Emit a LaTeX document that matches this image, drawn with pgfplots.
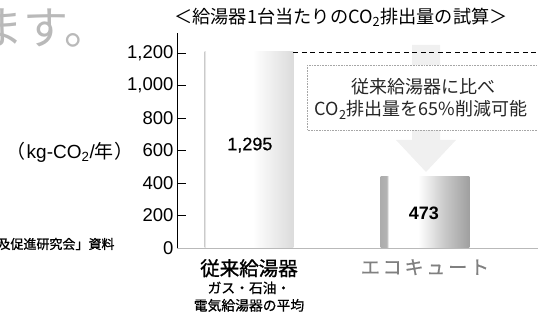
\documentclass[border=0pt]{standalone}
\usepackage{pgfplots}
\pgfplotsset{compat=1.18}
\usepackage{fontspec}
\setmainfont{Liberation Sans}
\newfontfamily\jp{Noto Sans CJK JP}
\pgfdeclarehorizontalshading{barA}{100bp}{color(0bp)=(gray!30); color(25bp)=(gray!30); color(25.8bp)=(white); color(52bp)=(white); color(75bp)=(gray!28); color(100bp)=(gray!28)}
\pgfdeclarehorizontalshading{barB}{100bp}{color(0bp)=(gray!65); color(25bp)=(gray!65); color(28.5bp)=(gray!60); color(29.5bp)=(white); color(46bp)=(white); color(62bp)=(gray!45); color(75bp)=(gray!75); color(100bp)=(gray!75)}
\begin{document}
\begin{tikzpicture}
% faint downward arrow
\fill[gray!12] (412pt,270pt) -- (440pt,270pt) -- (440pt,175pt) -- (456pt,175pt) -- (426pt,143pt) -- (396pt,175pt) -- (412pt,175pt) -- cycle;
% bars
\begin{axis}[at={(177pt,67pt)}, anchor=south west, scale only axis,
  width=361pt, height=215pt, xmin=-0.409, xmax=1.642, ymin=0, ymax=1420.5,
  hide axis, clip=false]
\addplot[ybar, bar width=0.505, bar shift=0pt, draw=none, shade, shading=barA] coordinates {(0,1295)};
\addplot[ybar, bar width=0.505, bar shift=0pt, draw=none, shade, shading=barB] coordinates {(1,473)};
\addplot[black, dash pattern=on 5pt off 3.5pt, line width=0.6pt] coordinates {(0.2525,1295) (1.642,1295)};
\node[font=\fontsize{18}{20}\selectfont\addfontfeature{FakeBold=0.6}] at (axis cs:0.005,680) {1,295};
\node[font=\bfseries\fontsize{18}{20}\selectfont] at (axis cs:0.994,231) {473};
\end{axis}
% tick axis
\begin{axis}[at={(177pt,67pt)}, anchor=south west, scale only axis,
  width=361pt, height=215pt, xmin=-0.409, xmax=1.642, ymin=0, ymax=1323,
  axis x line=bottom, axis y line=left, axis line style={-},
  x axis line style={gray!55, line width=0.8pt},
  y axis line style={black, line width=0.8pt},
  ytick={0,200,400,600,800,1000,1200},
  yticklabels={0,200,400,600,800,{1,000},{1,200}},
  yticklabel style={font=\fontsize{18.5}{20}\selectfont},
  major tick length=9pt, tick align=inside,
  ytick style={black, line width=0.7pt},
  xtick={0,1}, xtick style={draw=none},
  xticklabels={{{\fontsize{19.5}{17.5}\selectfont\addfontfeature{FakeBold=1.2}従来給湯器}\\ ガス・石油・\\ 電気給湯器の平均},
               {\color{gray}\fontsize{19}{21}\selectfont\addfontfeature{LetterSpace=15}エコキュート}},
  xticklabel style={font=\jp\fontsize{13.8}{17.5}\selectfont\addfontfeature{FakeBold=0.7}, anchor=north, align=center, inner sep=0pt, yshift=-11pt}]
\end{axis}
% annotation box
\draw[gray!70, densely dotted, line width=0.6pt, fill=white] (307pt,250pt) rectangle (548pt,185pt);
\node[font=\jp\fontsize{18}{20}\selectfont, text=black!85] at (423pt,228pt) {従来給湯器に比べ};
\node[font=\jp\fontsize{18}{20}\selectfont, text=black!85] at (421pt,205pt) {CO\textsubscript{2}排出量を65\%削減可能};
% title
\node[font=\jp\fontsize{18.2}{20}\selectfont] at (341pt,298pt) {＜給湯器1台当たりのCO\textsubscript{2}排出量の試算＞};
% y unit
\node[anchor=east, inner sep=0pt, font=\fontsize{19}{21}\selectfont] at (134pt,163pt) {{\jp （}\hspace{1pt}kg-CO\textsubscript{2}/{\jp 年}\hspace{1pt}{\jp ）}};
% source (cropped)
\node[anchor=east, font=\jp\fontsize{13}{15}\selectfont\addfontfeature{FakeBold=1}] at (118pt,71pt) {普及促進研究会」資料};
% cropped headline
\node[anchor=base west, font=\jp\fontsize{45}{50}\selectfont, text=gray!55] at (-25pt,270pt) {ます。};
\pgfresetboundingbox
\useasboundingbox (0,0) rectangle (538pt,315pt);
\end{tikzpicture}
\end{document}
